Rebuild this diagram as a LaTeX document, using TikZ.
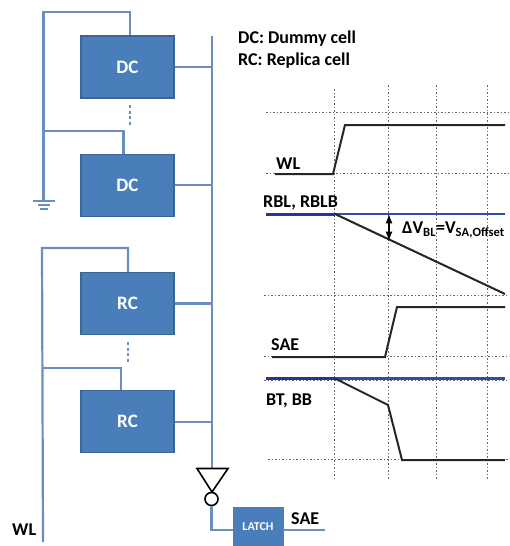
\documentclass[tikz,border=0pt]{standalone}
\usepackage{fontspec}
\setmainfont{Carlito}
\usepackage{xcolor}
\definecolor{cellblue}{HTML}{4A7EBB}
\definecolor{celledge}{HTML}{3B6595}
\definecolor{wireblue}{HTML}{6A8FBF}
\definecolor{railblue}{HTML}{1F3A93}
\definecolor{railthin}{HTML}{2F4FA5}
\usetikzlibrary{arrows.meta,positioning}

\begin{document}
\begin{tikzpicture}[x=1pt,y=-1pt,>=Latex,node distance=55pt]
\tikzset{
 cell/.style={draw=celledge,fill=cellblue,line width=1.2pt,minimum width=93pt,minimum height=62pt,inner sep=0pt,text=white,font=\bfseries\fontsize{19}{19}\selectfont},
 latchbox/.style={draw=cellblue,fill=cellblue,minimum width=50pt,minimum height=39pt,inner sep=0pt,text=white,font=\bfseries\fontsize{12}{12}\selectfont},
 wire/.style={draw=wireblue,line width=2.2pt},
 dotted wire/.style={draw=wireblue,line width=2.8pt,dash pattern=on 3pt off 2.5pt},
 label/.style={inner sep=0pt,anchor=west,font=\bfseries\fontsize{18}{18}\selectfont},
 grid/.style={draw=black!60,line width=.7pt,dash pattern=on 2pt off 2pt on 1pt off 2pt},
 signal/.style={draw=black!85,line width=2pt},
 rail/.style={draw=railblue,line width=3pt},
 thin rail/.style={draw=railthin,line width=2.2pt}
}
\useasboundingbox (0,0) rectangle (509,546);
\fill[white] (0,0) rectangle (509,546);
% cells
\node[cell] (dc1) at (127.5,67) {DC};
\node[cell,below=of dc1] (dc2) {DC};
\node[cell,below=of dc2] (rc1) {RC};
\node[cell,below=of rc1] (rc2) {RC};
\node[latchbox] (latch) at (258,526.5) {LATCH};
% bus
\coordinate (bustop) at (212,36);
\coordinate (businv) at (212,468);
\draw[wire] (bustop)--(businv);
\foreach \c in {dc1,dc2,rc1,rc2}
  \draw[wire] (\c.east)--(\c.east-|bustop);
% inverter
\coordinate (invl) at (197,468.5);
\coordinate (invr) at (228,468.5);
\coordinate (invt) at (212,492);
\node[draw=black,circle,line width=1.6pt,minimum size=13pt,inner sep=0pt] (invc) at (211.5,499) {};
\draw[black,line width=1.6pt] (invl)--(invr)--(invt)--cycle;
\coordinate (latchin) at (233,530);
\coordinate (saeout) at (325,530);
\draw[wire] (invc.south)|-(latchin);
\draw[wire] (latchin-|latch.east)--(saeout);
% dummy wires
\coordinate (dctop) at (43.5,12);
\coordinate (gnd) at (43.5,201);
\draw[wire] (dc1.north-|130,0)|-(dctop)--(gnd);
\draw[wire] (dc2.north-|123.5,0)|-(43.5,131);
\draw[wire] (33,201)--(55,201);
\draw[wire] (38,205)--(50,205);
\draw[wire] (40,209)--(48,209);
\draw[dotted wire] (130,105)--(130,126);
% replica wires
\coordinate (wlbot) at (43,542);
\draw[wire] (rc1.north-|128,0)|-(42,248)--(wlbot);
\draw[wire] (rc2.north-|121,0)|-(43,368);
\draw[dotted wire] (128,342)--(128,362);
\node[label] (wllabel) at (12,530) {WL};
\node[label] (saelabel) at (291,519) {SAE};
\node[label] (dclabel) at (238,39) {DC: Dummy cell};
\node[label] (rclabel) at (238,61) {RC: Replica cell};
% grid
\draw[grid] (334,89)--(334,480);
\foreach \x in {388,436,487}
  \draw[grid] (\x,85)--(\x,480);
\foreach \y/\a in {112/266,173/266,295/264,356/264,380/264,459/268}
  \draw[grid] (\a,\y)--(509,\y);
% waveforms
\draw[signal] (275,174)--(333,174)--(345,125)--(505,125);
\node[label] (wlwave) at (276,164) {WL};
\draw[thin rail] (335,214)--(505,214);
\draw[rail] (266,214)--(335,214);
\draw[signal] (335,214)--(505,294);
\node[label] (rbllabel) at (263,203) {RBL, RBLB};
\draw[black,line width=1.4pt,<->] (389,214)--(389,241);
\node[label] (dvlabel) at (402,230) {ΔV\textsubscript{BL}=V\textsubscript{SA,Offset}};
\draw[signal] (272,357)--(385,357)--(397,307)--(505,307);
\node[label] (saewave) at (271,345) {SAE};
\draw[thin rail] (335,378.5)--(505,378.5);
\draw[rail] (266,378.5)--(335,378.5);
\draw[signal] (335,378.5)--(388,405)--(402,460)--(505,460);
\node[label] (btlabel) at (266,401) {BT, BB};
\end{tikzpicture}
\end{document}
